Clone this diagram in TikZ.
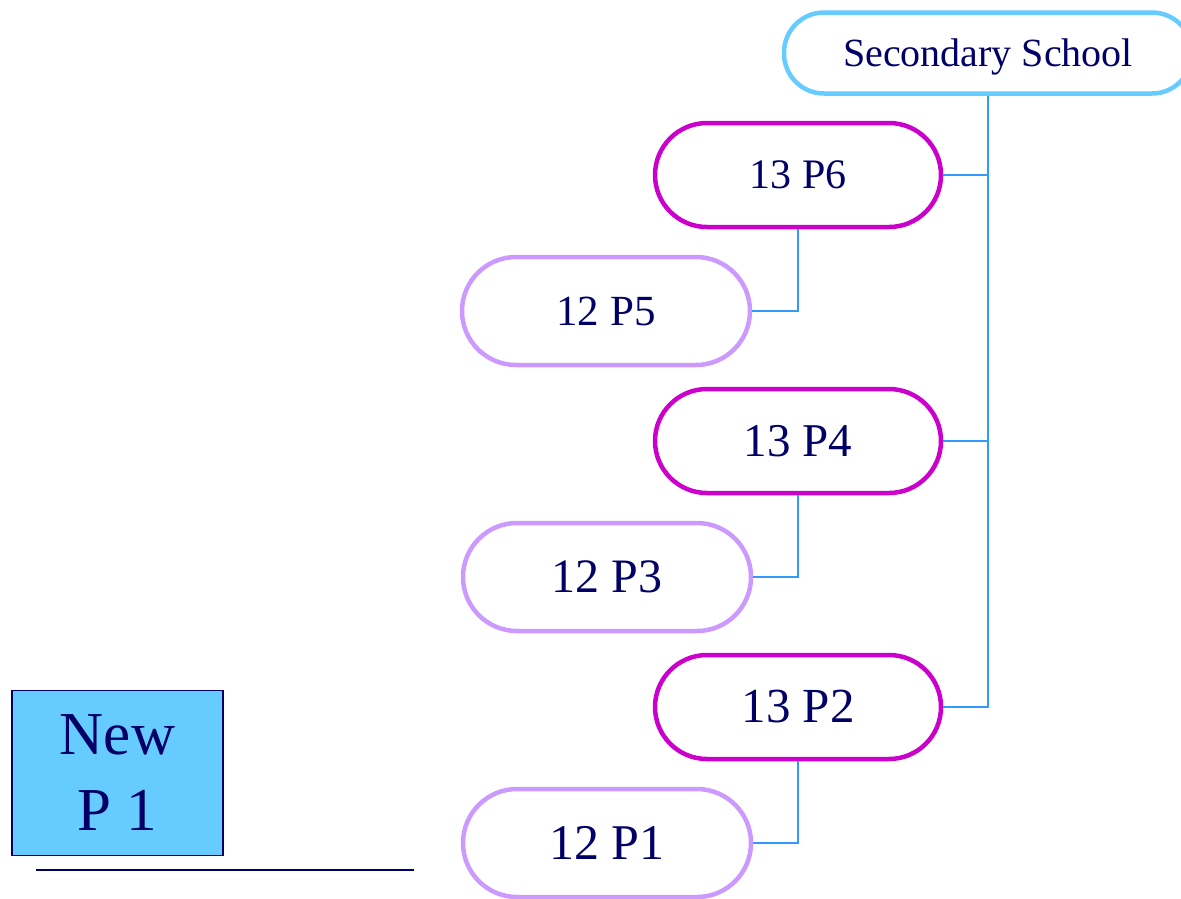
\documentclass[tikz,border=0pt]{standalone}
\usepackage{fontspec}
\setmainfont{Liberation Serif}
\definecolor{navy}{HTML}{000066}
\definecolor{pinkb}{HTML}{CC00CC}
\definecolor{lavb}{HTML}{CC99FF}
\definecolor{skyb}{HTML}{66CCFF}
\definecolor{connb}{HTML}{3399FF}
\begin{document}
\begin{tikzpicture}[x=1pt,y=-1pt,
  pill/.style={draw, line width=4.5pt, fill=white, text=navy, rounded corners=52pt,
    minimum width=286pt, minimum height=104pt, inner sep=0pt},
  upper/.style={pill, draw=pinkb},
  lower/.style={pill, draw=lavb, minimum width=288pt, minimum height=108pt, rounded corners=54pt},
  conn/.style={draw=connb, line width=1.8pt},
  fs/.style={font=\fontsize{#1}{#1}\selectfont}
]
\useasboundingbox (0,0) rectangle (1181,898);
\node[pill, draw=skyb, minimum width=408pt, minimum height=81pt, rounded corners=40pt,
  fs=40, text depth=0pt] (ss) at (988,53) {Secondary School};
\node[upper, fs=42] (p6) at (798,175) {13 P6};
\node[lower, fs=43] (p5) at (606,311) {12 P5};
\node[upper, fs=47] (p4) at (798,441) {13 P4};
\node[lower, fs=48] (p3) at (607,577) {12 P3};
\node[upper, fs=49] (p2) at (798,707) {13 P2};
\node[lower, fs=50] (p1) at (607,843) {12 P1};
\draw[conn] (ss.south) |- (p2.east);
\draw[conn] (p6.east) -- (p6.east -| ss.south);
\draw[conn] (p4.east) -- (p4.east -| ss.south);
\draw[conn] (p6.south) |- (p5.east);
\draw[conn] (p4.south) |- (p3.east);
\draw[conn] (p2.south) |- (p1.east);
\node[draw=navy, line width=1.5pt, fill=skyb, text=navy, minimum width=211pt, minimum height=165pt,
  align=center, inner sep=0pt, font=\fontsize{61}{76}\selectfont] (np) at (117.5,773) {New\\P 1};
\coordinate (la) at (36,870);
\coordinate (lb) at (414,870);
\draw[navy, line width=2pt] (la) -- (lb);
\end{tikzpicture}
\end{document}
